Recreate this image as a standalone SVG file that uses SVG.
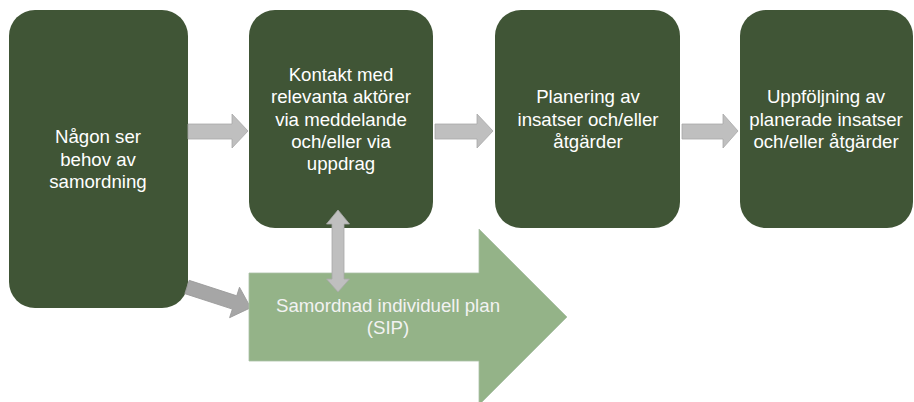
<svg xmlns="http://www.w3.org/2000/svg" width="914" height="402" viewBox="0 0 914 402">
<style>
.box{fill:#405536}
.t{font-family:"Liberation Sans",Arial,sans-serif;font-size:18.67px;fill:#ffffff;text-anchor:middle}
.ts{font-family:"Liberation Sans",Arial,sans-serif;font-size:18.67px;fill:#f2f2f2;text-anchor:middle}
.ga{fill:#bfbfbf;stroke:#a8a8a8;stroke-width:0.8}
.gd{fill:#a6a6a6;stroke:#9a9a9a;stroke-width:0.8}
.sip{fill:#94b388;stroke:#a9c0a6;stroke-width:0.8}
</style>
<rect width="914" height="402" fill="#ffffff"/>
<g id="node1">
<rect class="box" x="9" y="10" width="179" height="298" rx="26"/>
<text class="t" x="98" y="143">Någon ser</text>
<text class="t" x="98" y="165.5">behov av</text>
<text class="t" x="98" y="188">samordning</text>
</g>
<g id="node2">
<rect class="box" x="249" y="10" width="184" height="218" rx="26"/>
<text class="t" x="341" y="81">Kontakt med</text>
<text class="t" x="341" y="103">relevanta aktörer</text>
<text class="t" x="341" y="125.5">via meddelande</text>
<text class="t" x="341" y="148">och/eller via</text>
<text class="t" x="341" y="170">uppdrag</text>
</g>
<g id="node3">
<rect class="box" x="495" y="10" width="185" height="218" rx="26"/>
<text class="t" x="588" y="103">Planering av</text>
<text class="t" x="588" y="125.5">insatser och/eller</text>
<text class="t" x="588" y="148">åtgärder</text>
</g>
<g id="node4">
<rect class="box" x="740" y="10" width="173" height="218" rx="26"/>
<text class="t" x="826" y="103">Uppföljning av</text>
<text class="t" x="826" y="125.5">planerade insatser</text>
<text class="t" x="826" y="148">och/eller åtgärder</text>
</g>
<g id="connectors">
<polygon class="ga" points="188,124 232,124 232,114 248,131 232,148 232,139 188,139"/>
<polygon class="ga" points="435,124 477,124 477,114 493,131 477,148 477,139 435,139"/>
<polygon class="ga" points="682,124 723,124 723,114 738,131 723,148 723,139 682,139"/>
<polygon class="gd" transform="translate(187,287) rotate(18)" points="0,-7 50,-7 50,-16 67,0 50,16 50,7 0,7"/>
</g>
<g id="sip">
<polygon class="sip" points="249,273 479,273 479,229 567,317 479,405 479,361 249,361"/>
<text class="ts" x="388" y="312">Samordnad individuell plan</text>
<text class="ts" x="388" y="334">(SIP)</text>
</g>
<g id="connector-bidirectional">
<polygon class="ga" points="338,210 349.5,224 344,224 344,279 349.5,279 338,292 326.5,279 332,279 332,224 326.5,224"/>
</g>
</svg>
